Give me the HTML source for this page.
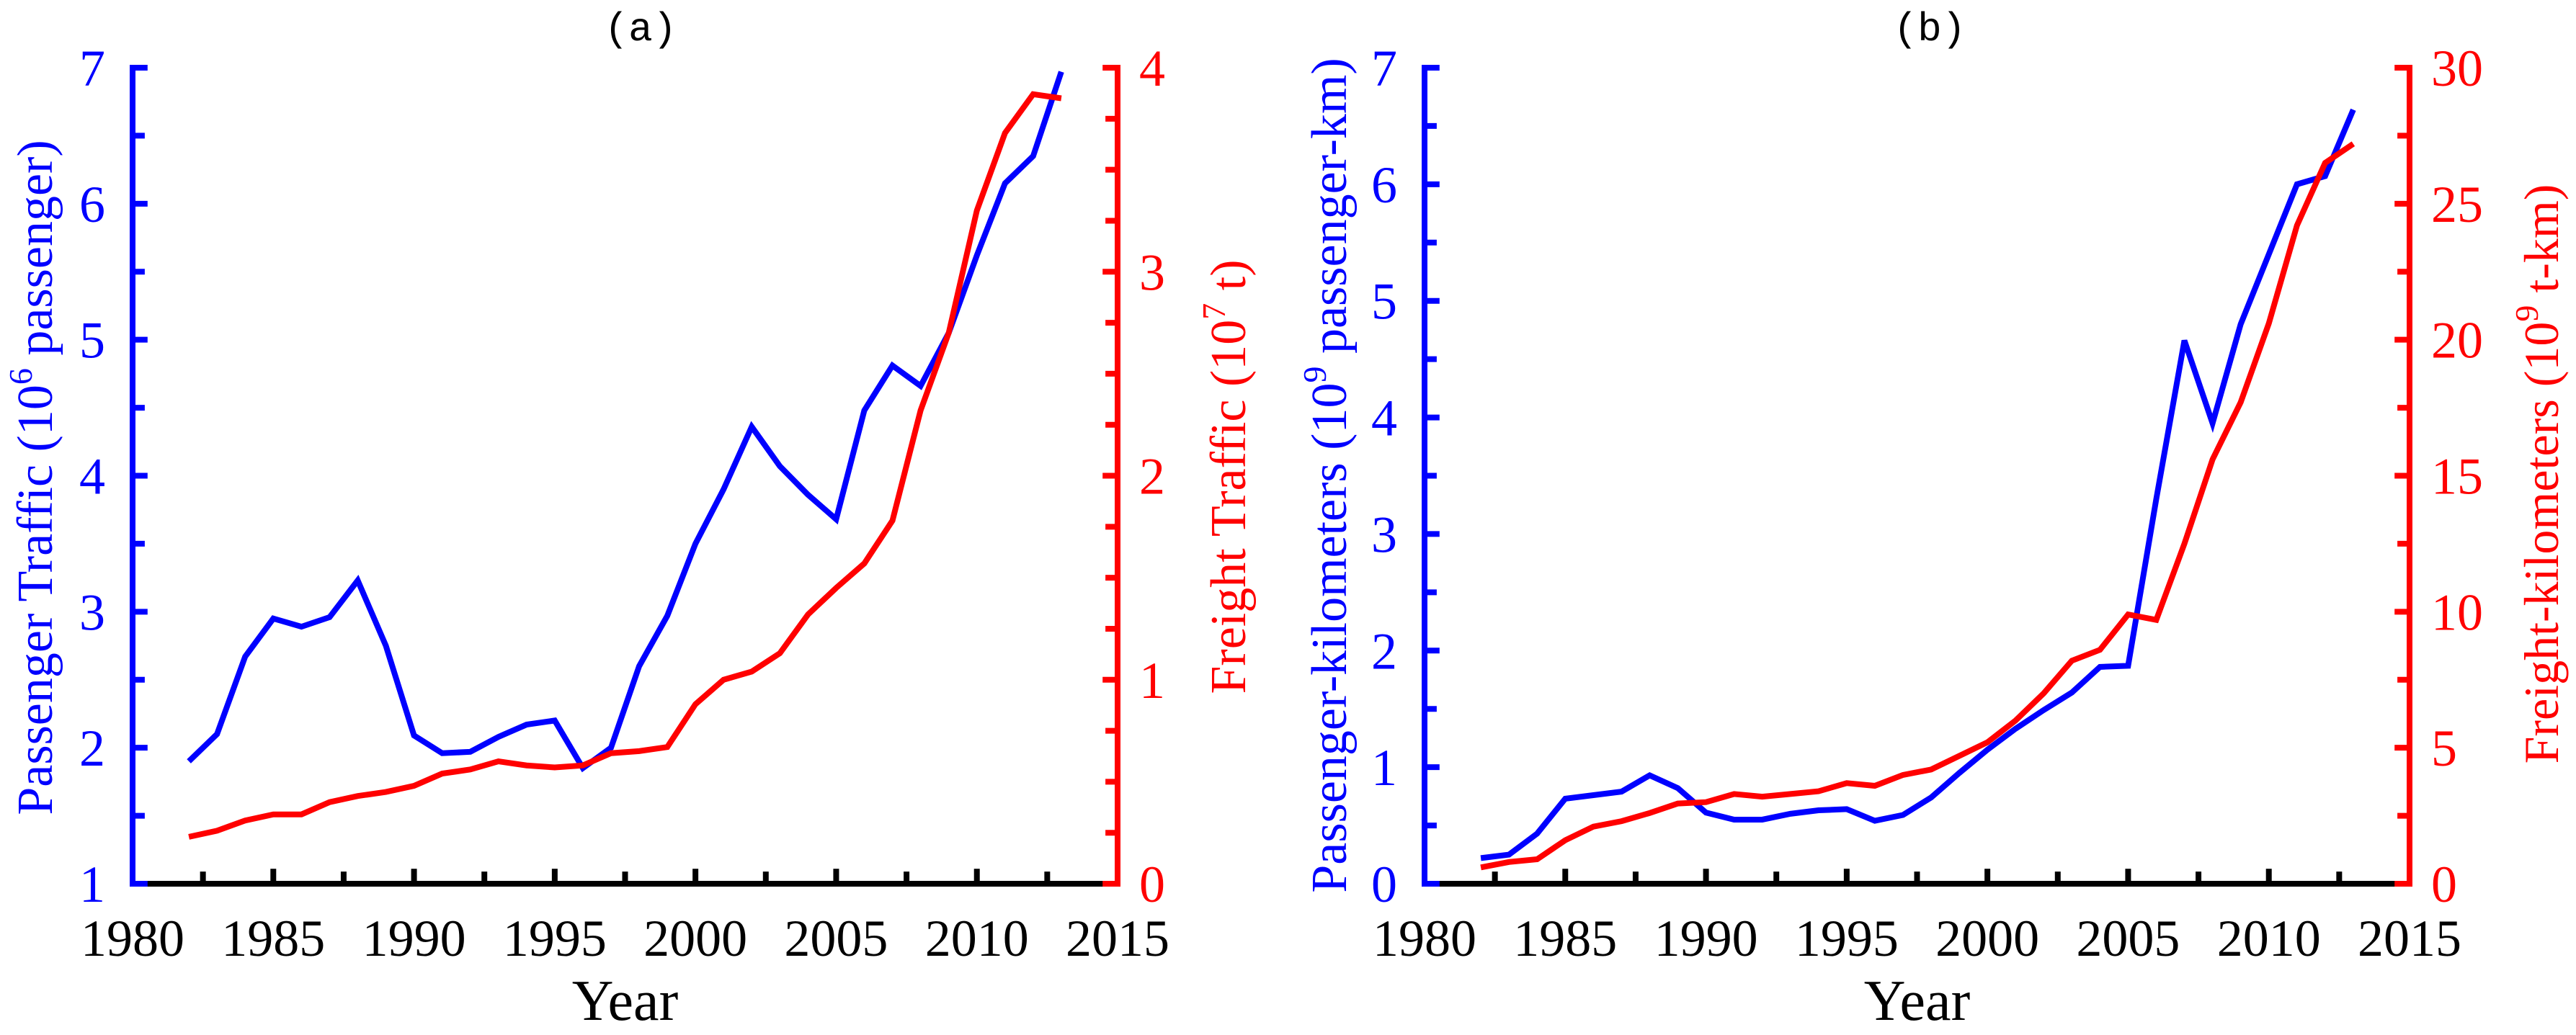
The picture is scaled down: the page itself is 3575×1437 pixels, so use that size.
<!DOCTYPE html>
<html><head><meta charset="utf-8"><style>
html,body{margin:0;padding:0;background:#fff;}
svg{display:block;}
text{font-family:"Liberation Serif",serif;}
</style></head><body>
<svg id="chart" width="3575" height="1437" viewBox="0 0 3575 1437" xmlns="http://www.w3.org/2000/svg"></svg>
<script>
const years = [1982,1983,1984,1985,1986,1987,1988,1989,1990,1991,1992,1993,1994,1995,1996,1997,1998,1999,2000,2001,2002,2003,2004,2005,2006,2007,2008,2009,2010,2011,2012,2013];
const passengerA = [1.9,2.1,2.67,2.95,2.89,2.96,3.23,2.75,2.09,1.96,1.97,2.08,2.17,2.2,1.85,2.0,2.6,2.97,3.5,3.9,4.36,4.07,3.86,3.68,4.48,4.81,4.66,5.05,5.62,6.15,6.35,6.97];
const freightA = [0.23,0.26,0.31,0.34,0.34,0.4,0.43,0.45,0.48,0.54,0.56,0.6,0.58,0.57,0.58,0.64,0.65,0.67,0.88,1.0,1.04,1.13,1.32,1.45,1.57,1.78,2.32,2.7,3.3,3.68,3.87,3.85];
const passengerB = [0.22,0.25,0.43,0.73,0.76,0.79,0.93,0.82,0.61,0.55,0.55,0.6,0.63,0.64,0.54,0.59,0.74,0.95,1.15,1.33,1.49,1.64,1.86,1.87,3.3,4.66,3.95,4.8,5.4,6.0,6.07,6.64];
const freightB = [0.6,0.8,0.9,1.6,2.1,2.3,2.6,2.95,3.0,3.3,3.2,3.3,3.4,3.7,3.6,4.0,4.2,4.7,5.2,6.0,7.0,8.2,8.6,9.9,9.7,12.5,15.6,17.7,20.6,24.2,26.5,27.2];
const xTicks = [1980,1985,1990,1995,2000,2005,2010,2015];
const leftTicksA = [1,2,3,4,5,6,7];
const rightTicksA = [0,1,2,3,4];
const leftTicksB = [0,1,2,3,4,5,6,7];
const rightTicksB = [0,5,10,15,20,25,30];

const NS="http://www.w3.org/2000/svg";
const svg=document.getElementById('chart');
function mk(tag,attrs,parent){const e=document.createElementNS(NS,tag);for(const k in attrs)e.setAttribute(k,attrs[k]);(parent||svg).appendChild(e);return e;}

function panel(p){
  const g=mk('g',{});
  
  
  const top=94,bot=1227,L=p.L,R=p.R;
  const sx=v=>L+(v-1980)/35*(R-L);
  const syL=v=>bot-(v-p.lmin)/(p.lmax-p.lmin)*(bot-top);
  const syR=v=>bot-(v-p.rmin)/(p.rmax-p.rmin)*(bot-top);
  const tl=13,sw=8;
  const xa=mk('line',{x1:L,y1:bot,x2:R,y2:bot,stroke:'#000','stroke-width':sw},g);
  
  
  for(let v=1980;v<=2015;v+=2.5){mk('line',{x1:sx(v),y1:bot,x2:sx(v),y2:bot-tl*(v%5===0?1.6:1.3),stroke:'#000','stroke-width':sw},g);}
  xTicks.forEach(v=>{const t=mk('text',{x:sx(v),y:1327,'font-size':72,'text-anchor':'middle',fill:'#000'},g);t.textContent=v;
    
    });
  const la=mk('line',{x1:L,y1:bot+4,x2:L,y2:top-4,stroke:'#00f','stroke-width':sw},g);
  
  
  for(let v=p.lmin;v<=p.lmax+1e-9;v+=0.5){mk('line',{x1:L,y1:syL(v),x2:L+tl*(Number.isInteger(v)?1.6:1.3),y2:syL(v),stroke:'#00f','stroke-width':sw},g);}
  p.lt.forEach(v=>{const t=mk('text',{x:L-38,y:syL(v)+25,'font-size':72,'text-anchor':'end',fill:'#00f'},g);t.textContent=v;
    
    });
  const ra=mk('line',{x1:R,y1:bot+4,x2:R,y2:top-4,stroke:'#f00','stroke-width':sw},g);
  
  
  for(let v=p.rmin;v<=p.rmax+1e-9;v+=p.rminor){const maj=Math.abs(v/p.rstep-Math.round(v/p.rstep))<1e-6;mk('line',{x1:R,y1:syR(v),x2:R-tl*(maj?1.6:1.3),y2:syR(v),stroke:'#f00','stroke-width':sw},g);}
  p.rt.forEach(v=>{const t=mk('text',{x:R+30,y:syR(v)+25,'font-size':72,'text-anchor':'start',fill:'#f00'},g);t.textContent=v;
    
    });
  const pl=mk('polyline',{points:years.map((y,i)=>sx(y)+','+syL(p.ls[i])).join(' '),fill:'none',stroke:'#00f','stroke-width':8,'stroke-linejoin':'miter'},g);
  
  
  const fl=mk('polyline',{points:years.map((y,i)=>sx(y)+','+syR(p.rs[i])).join(' '),fill:'none',stroke:'#f00','stroke-width':8,'stroke-linejoin':'miter'},g);
  
  
  const ti=mk('text',{x:p.tx,y:56,'font-size':56,'text-anchor':'middle',fill:'#000','style':'font-family:"Liberation Mono",monospace'},g);ti.textContent=p.title;
  
  
  const xt=mk('text',{x:(L+R)/2,y:1416,'font-size':80,'text-anchor':'middle',fill:'#000'},g);xt.textContent='Year';
  
  
  const yl=mk('text',{x:0,y:0,'font-size':70,'text-anchor':'middle',fill:'#00f',transform:`translate(${p.lx},${p.ly}) rotate(-90)`},g);
  yl.innerHTML=p.ltitle;
  
  
  const yr=mk('text',{x:0,y:0,'font-size':p.rfs,'text-anchor':'middle',fill:'#f00',transform:`translate(${p.rx},${p.ry}) rotate(-90)`},g);
  yr.innerHTML=p.rtitle;
  
  
}
panel({name:'panel-a',L:184,R:1551,lmin:1,lmax:7,rmin:0,rmax:4,rstep:1,rminor:0.25,lt:leftTicksA,rt:rightTicksA,ls:passengerA,rs:freightA,title:'(a)',tx:889,
  ltitle:'Passenger Traffic (10<tspan dy="-28" font-size="46">6</tspan><tspan dy="28"> passenger)</tspan>',lx:72,ly:663,rfs:70,
  rtitle:'Freight Traffic (10<tspan dy="-28" font-size="46">7</tspan><tspan dy="28"> t)</tspan>',rx:1728,ry:662});
panel({name:'panel-b',L:1977,R:3344,lmin:0,lmax:7,rmin:0,rmax:30,rstep:5,rminor:2.5,lt:leftTicksB,rt:rightTicksB,ls:passengerB,rs:freightB,title:'(b)',tx:2678,
  ltitle:'Passenger-kilometers (10<tspan dy="-28" font-size="46">9</tspan><tspan dy="28"> passenger-km)</tspan>',lx:1868,ly:660,rfs:68,
  rtitle:'Freight-kilometers (10<tspan dy="-28" font-size="46">9</tspan><tspan dy="28"> t-km)</tspan>',rx:3550,ry:658});
</script>
</body></html>
